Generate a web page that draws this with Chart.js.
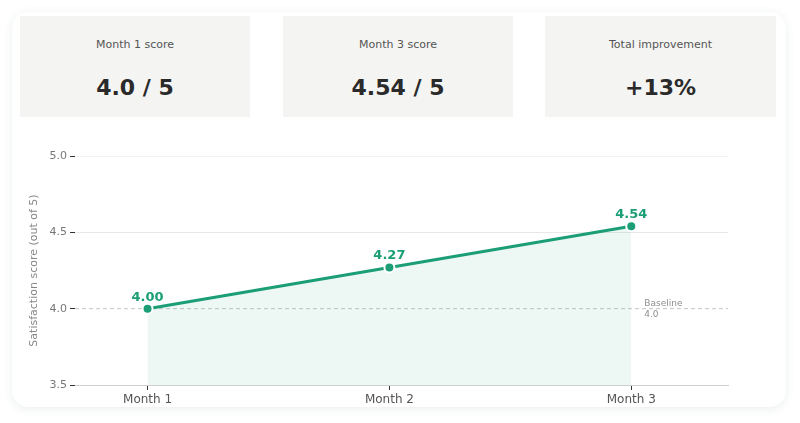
<!DOCTYPE html>
<html>
<head>
<meta charset="utf-8">
<script src="https://cdn.jsdelivr.net/npm/chart.js@4.4.0/dist/chart.umd.min.js"></script>
<style>
  html,body{margin:0;padding:0;background:#ffffff;font-family:"DejaVu Sans",sans-serif;}
  #page{position:relative;width:800px;height:423px;overflow:hidden;}
  #card{position:absolute;left:12px;top:12px;width:774px;height:395px;background:#fff;border-radius:16px;
        box-shadow:0 2px 10px rgba(60,90,90,0.10);}
  .stat{position:absolute;top:16px;height:101px;background:#f4f4f2;text-align:center;}
  .stat .lbl{position:absolute;left:0;right:0;top:23px;font-size:11px;line-height:11px;color:#555;}
  .stat .val{position:absolute;left:0;right:0;top:61px;font-size:22px;line-height:22px;font-weight:bold;color:#2a2a2a;}
  #wrap{position:absolute;left:20px;top:140px;width:740px;height:270px;}
</style>
</head>
<body>
<div id="page">
  <div id="card"></div>
  <div class="stat" style="left:20px;width:230px;"><div class="lbl">Month 1 score</div><div class="val">4.0 / 5</div></div>
  <div class="stat" style="left:283px;width:230px;"><div class="lbl">Month 3 score</div><div class="val">4.54 / 5</div></div>
  <div class="stat" style="left:545px;width:231px;"><div class="lbl">Total improvement</div><div class="val">+13%</div></div>
  <div id="wrap"><canvas id="c"></canvas></div>
</div>
<script>
const categories = ["Month 1", "Month 2", "Month 3"];
const scores = [4.00, 4.27, 4.54];
const yTicks = [3.5, 4.0, 4.5, 5.0];
const baseline = 4.0;

const green = "#1b9e75";

const labelsPlugin = {
  id: "labels",
  afterDatasetsDraw(chart) {
    const ctx = chart.ctx;
    const meta = chart.getDatasetMeta(0);
    ctx.save();
    ctx.fillStyle = green;
    ctx.font = "bold 13px 'DejaVu Sans'";
    ctx.textAlign = "center";
    ctx.textBaseline = "alphabetic";
    meta.data.forEach((p, i) => {
      ctx.fillText(scores[i].toFixed(2), p.x, p.y - 8);
    });
    ctx.restore();
  }
};

const baselinePlugin = {
  id: "baseline",
  beforeDatasetsDraw(chart) {
    const ctx = chart.ctx;
    const y = chart.scales.y.getPixelForValue(baseline);
    const a = chart.chartArea;
    ctx.save();
    ctx.strokeStyle = "#c4c4c4";
    ctx.lineWidth = 1;
    ctx.setLineDash([4, 3]);
    ctx.beginPath();
    ctx.moveTo(a.left, y);
    ctx.lineTo(a.right, y);
    ctx.stroke();
    ctx.setLineDash([]);
    const xl = chart.scales.x.getPixelForValue(2) + 13;
    ctx.fillStyle = "#8f8f8f";
    ctx.font = "9px 'DejaVu Sans'";
    ctx.textAlign = "left";
    ctx.textBaseline = "middle";
    ctx.fillText("Baseline", xl, y - 5);
    ctx.fillText(baseline.toFixed(1), xl, y + 5.5);
    ctx.restore();
  }
};

new Chart(document.getElementById("c"), {
  type: "line",
  data: {
    datasets: [{
      data: scores.map((v, i) => ({x: i, y: v})),
      borderColor: green,
      borderWidth: 3,
      backgroundColor: "rgba(27,158,117,0.08)",
      fill: "start",
      pointRadius: 5,
      pointHoverRadius: 5,
      pointBackgroundColor: green,
      pointBorderColor: "#ffffff",
      pointBorderWidth: 2,
      tension: 0
    }]
  },
  options: {
    responsive: true,
    maintainAspectRatio: false,
    animation: false,
    layout: {padding: {top: 16, right: 32, left: 0, bottom: 0}},
    plugins: {legend: {display: false}, tooltip: {enabled: false}},
    scales: {
      x: {
        type: "linear",
        min: -0.3,
        max: 2.4,
        afterBuildTicks(s) { s.ticks = categories.map((c, i) => ({value: i})); },
        afterFit(s) { s.height = 25; },
        ticks: {
          callback: (v) => categories[v] ?? "",
          color: "#555",
          font: {family: "DejaVu Sans", size: 12},
          padding: 3,
          maxRotation: 0
        },
        grid: {drawOnChartArea: false, drawTicks: true, tickLength: 5, tickColor: "#333", tickWidth: 1},
        border: {display: true, color: "#cfcfcf", width: 1}
      },
      y: {
        min: 3.5,
        max: 5.0,
        afterBuildTicks(s) { s.ticks = yTicks.map(v => ({value: v})); },
        afterFit(s) { s.width = 55; },
        ticks: {
          callback: (v) => Number(v).toFixed(1),
          color: "#777",
          font: {family: "DejaVu Sans", size: 11},
          padding: 3
        },
        grid: {
          color: (c) => {
            const v = c.tick ? c.tick.value : null;
            if (v === 5.0) return "#f3f3f3";
            if (v === 4.5) return "#e8e8e8";
            return "rgba(0,0,0,0)";
          },
          tickColor: "#333",
          tickLength: 5,
          lineWidth: 1
        },
        border: {display: false},
        title: {
          display: true,
          text: "Satisfaction score (out of 5)",
          color: "#888",
          font: {family: "DejaVu Sans", size: 11},
          padding: {top: 8, bottom: 0}
        }
      }
    }
  },
  plugins: [baselinePlugin, labelsPlugin]
});
</script>
</body>
</html>
